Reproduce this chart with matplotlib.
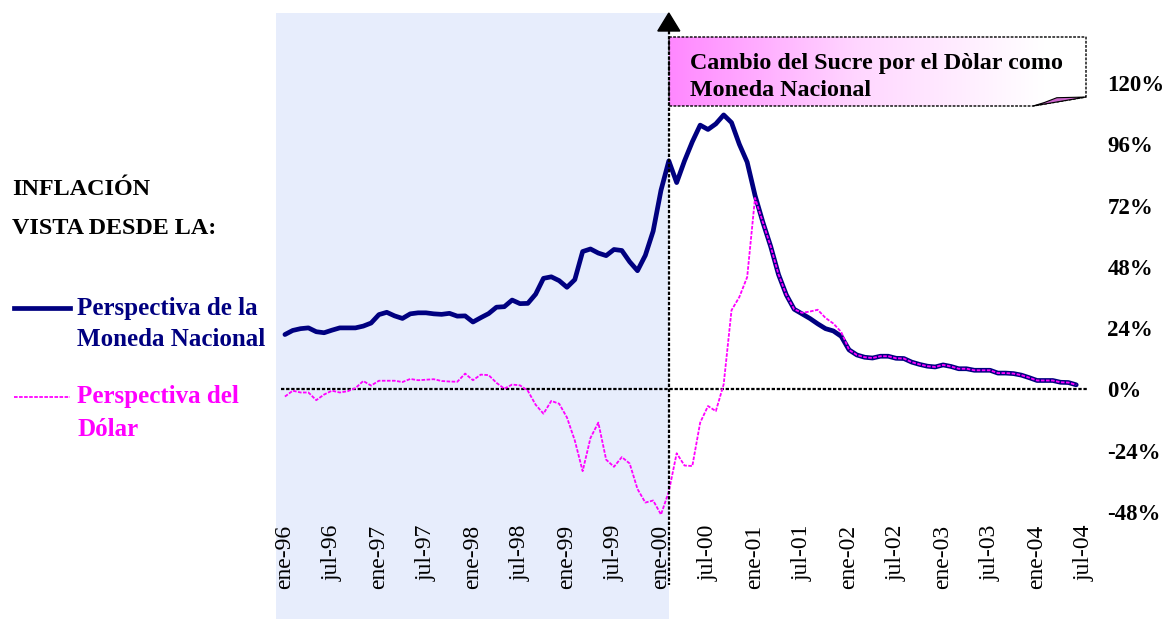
import numpy as np
import matplotlib
matplotlib.use('Agg')
import matplotlib.pyplot as plt
from matplotlib.lines import Line2D
from matplotlib.patches import Polygon, Rectangle
from matplotlib.colors import LinearSegmentedColormap

plt.rcParams['font.family'] = ['Liberation Serif', 'DejaVu Serif']

# etiquetas del eje x (cada 6 meses desde ene-96)
tick_labels = ['ene-96', 'jul-96', 'ene-97', 'jul-97', 'ene-98', 'jul-98', 'ene-99', 'jul-99',
               'ene-00', 'jul-00', 'ene-01', 'jul-01', 'ene-02', 'jul-02', 'ene-03', 'jul-03',
               'ene-04', 'jul-04']
y_ticks = [-48, -24, 0, 24, 48, 72, 96, 120]

# inflacion anual (%), mensual ene-96 .. jun-04
moneda_nacional = [21.5, 23.1, 23.8, 24.1, 22.6, 22.2, 23.2, 24.1, 24.1, 24.1, 24.8, 26.0,
                   29.3, 30.2, 28.8, 27.8, 29.6, 30.0, 30.0, 29.6, 29.4, 29.8, 28.7, 28.8,
                   26.4, 28.1, 29.7, 32.2, 32.4, 35.0, 33.6, 33.7, 37.3, 43.5, 44.1, 42.6,
                   40.0, 43.0, 54.0, 55.0, 53.4, 52.4, 54.8, 54.4, 50.0, 46.5, 52.5, 62.0,
                   78.0, 89.5, 81.0, 89.5, 97.0, 103.5, 101.8, 104.0, 107.5, 104.5, 96.0, 89.0,
                   76.0, 65.5, 56.0, 45.0, 37.0, 31.4, 29.6, 27.8, 25.7, 23.8, 22.9, 20.8,
                   15.5, 13.5, 12.6, 12.3, 13.0, 13.0, 12.2, 12.1, 10.7, 9.8, 9.1, 8.8,
                   9.6, 9.0, 8.1, 8.1, 7.5, 7.5, 7.5, 6.4, 6.4, 6.2, 5.6, 4.6,
                   3.5, 3.5, 3.5, 2.8, 2.7, 1.8]
dolar = [-2.8, -0.5, -1.2, -1.2, -4.2, -2.0, -0.5, -1.2, -0.7, 0.5, 3.3, 1.5,
         3.4, 3.4, 3.4, 2.9, 4.1, 3.6, 3.8, 4.0, 3.3, 3.1, 3.0, 6.2,
         3.6, 5.8, 5.6, 2.6, 0.3, 1.9, 1.6, -0.5, -6.0, -9.5, -4.5, -5.6,
         -11.0, -20.0, -32.0, -19.0, -13.0, -27.5, -30.3, -26.5, -29.0, -39.0, -44.3, -43.5,
         -49.0, -40.0, -25.0, -29.8, -30.0, -13.0, -6.5, -8.5, 2.0, 31.0, 36.2, 44.0,
         75.0, 65.5, 56.0, 45.0, 37.0, 31.4, 30.0, 30.5, 31.2, 28.0, 25.8, 22.5,
         15.5, 13.5, 12.6, 12.3, 13.0, 13.0, 12.2, 12.1, 10.7, 9.8, 9.1, 8.8,
         9.6, 9.0, 8.1, 8.1, 7.5, 7.5, 7.5, 6.4, 6.4, 6.2, 5.6, 4.6,
         3.5, 3.5, 3.5, 2.8, 2.7, 1.8]
mes_dolarizacion = 49

W, H = 1164, 619
def fx(px):
    return px / W
def fy(py):
    return 1 - py / H

fig = plt.figure(figsize=(W / 100, H / 100), dpi=100)

# zona sombreada (periodo del sucre)
fig.patches.append(Rectangle((fx(276), 0), fx(669) - fx(276), fy(13), transform=fig.transFigure,
                             facecolor='#E7EDFC', edgecolor='none', zorder=-5))

ax = fig.add_axes([fx(281), fy(512), fx(1088) - fx(281), fy(83) - fy(512)])
ax.set_zorder(2)
ax.patch.set_visible(False)

meses = np.arange(len(moneda_nacional))
ax.axhline(0, color='black', lw=1.6, ls=(0, (1.5, 0.8)), zorder=1)
ax.plot(meses, moneda_nacional, color='#000080', lw=3.4, solid_capstyle='round', zorder=3, clip_on=False)
ax.plot(meses, dolar, color='#FF00FF', lw=1.3, ls=(0, (2, 0.8)), zorder=4, clip_on=False)

ax.set_xlim(-0.5, 102.5)
ax.set_ylim(-48, 120)
ax.set_xticks(np.arange(0, 103, 6))
ax.set_xticklabels(tick_labels, rotation=90, fontsize=17)
ax.set_yticks(y_ticks)
ax.set_yticklabels([f'{v}%' for v in y_ticks], fontsize=16.5, fontweight='bold', ha='left')
ax.yaxis.tick_right()
ax.tick_params(axis='x', length=0, pad=9)
ax.tick_params(axis='y', length=0, pad=14)
for s in ax.spines.values():
    s.set_visible(False)

# linea vertical de la dolarizacion con flecha
xv = ax.transData.transform((mes_dolarizacion, 0))[0] / fig.dpi / fig.get_figwidth()
fig.add_artist(Line2D([xv, xv], [fy(31), fy(585)], transform=fig.transFigure, color='black',
                      lw=1.6, ls=(0, (1.5, 0.8)), zorder=5))
fig.patches.append(Polygon([(xv - fx(11), fy(31)), (xv + fx(11), fy(31)), (xv, fy(13))], closed=True,
                           transform=fig.transFigure, facecolor='black', edgecolor='black', zorder=6))

# recuadro con degradado
bx = fig.add_axes([fx(669), fy(106), fx(1086) - fx(669), fy(37) - fy(106)])
bx.set_zorder(3)
bx.set_xlim(0, 1)
bx.set_ylim(0, 1)
bx.axis('off')
cmap = LinearSegmentedColormap.from_list('rosa', ['#FF88FF', '#FFD6FF', '#FFFFFF'])
grad = np.clip(np.linspace(0, 1, 300) / 0.9, 0, 1).reshape(1, -1)
forma = [(0, 1), (1, 1), (1, 0.13), (0.873, 0), (0, 0)]
im = bx.imshow(grad, cmap=cmap, extent=(0, 1, 0, 1), aspect='auto', zorder=1)
im.set_clip_path(Polygon(forma, closed=True, transform=bx.transData))
bx.add_patch(Polygon(forma, closed=True, facecolor='none', edgecolor='black', lw=1.0,
                     ls=(0, (2, 1)), clip_on=False, zorder=3))
# esquina doblada
bx.add_patch(Polygon([(0.873, 0), (1, 0.13), (0.93, 0.12), (0.9, 0.05)], closed=True,
                     facecolor='#CC66CC', edgecolor='black', lw=0.8, clip_on=False, zorder=4))
bx.text((690 - 669) / 417, (106 - 63) / 69, 'Cambio del Sucre por el Dòlar como',
        fontsize=17.3, fontweight='bold', va='center', ha='left')
bx.text((690 - 669) / 417, (106 - 91) / 69, 'Moneda Nacional',
        fontsize=17.3, fontweight='bold', va='center', ha='left')

# titulo y leyenda a la izquierda
fig.text(fx(12), fy(190), 'INFLACIÓN', fontsize=17.4, fontweight='bold', va='center', ha='left')
fig.text(fx(12), fy(228), 'VISTA DESDE LA:', fontsize=17.4, fontweight='bold', va='center', ha='left')
fig.add_artist(Line2D([fx(14), fx(70)], [fy(308), fy(308)], transform=fig.transFigure,
                      color='#000080', lw=3.4))
fig.add_artist(Line2D([fx(14), fx(70)], [fy(397), fy(397)], transform=fig.transFigure,
                      color='#FF00FF', lw=1.3, ls=(0, (2, 0.8))))
fig.text(fx(77), fy(308), 'Perspectiva de la', fontsize=18, fontweight='bold', color='#000080',
         va='center', ha='left')
fig.text(fx(77), fy(340), 'Moneda Nacional', fontsize=18, fontweight='bold', color='#000080',
         va='center', ha='left')
fig.text(fx(77), fy(397), 'Perspectiva del', fontsize=18, fontweight='bold', color='#FF00FF',
         va='center', ha='left')
fig.text(fx(77), fy(430), 'Dólar', fontsize=18, fontweight='bold', color='#FF00FF',
         va='center', ha='left')

fig.savefig('out.png', dpi=100)
